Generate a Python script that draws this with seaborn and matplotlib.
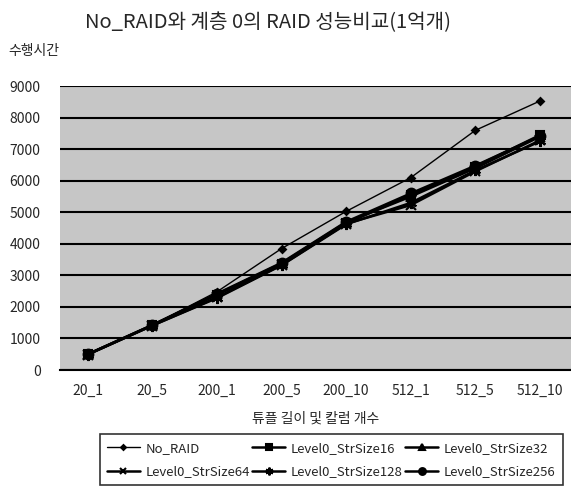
import pandas as pd
import seaborn as sns
import matplotlib.pyplot as plt
import numpy as np

categories = ['20_1', '20_5', '200_1', '200_5', '200_10', '512_1', '512_5', '512_10']
no_raid = [500, 1420, 2480, 3850, 5030, 6100, 7600, 8530]
str16 = [500, 1420, 2380, 3350, 4650, 5550, 6450, 7450]
str32 = [500, 1420, 2400, 3380, 4680, 5500, 6400, 7400]
str64 = [490, 1410, 2300, 3330, 4640, 5230, 6300, 7280]
str128 = [490, 1410, 2280, 3320, 4620, 5300, 6330, 7250]
str256 = [500, 1430, 2420, 3400, 4700, 5600, 6480, 7420]

series = {
    'No_RAID': no_raid,
    'Level0_StrSize16': str16,
    'Level0_StrSize32': str32,
    'Level0_StrSize64': str64,
    'Level0_StrSize128': str128,
    'Level0_StrSize256': str256,
}
markers = {'No_RAID': 'D', 'Level0_StrSize16': 's', 'Level0_StrSize32': '^',
           'Level0_StrSize64': 'x', 'Level0_StrSize128': (6, 2, 0), 'Level0_StrSize256': 'o'}
msizes = {'No_RAID': 3.5, 'Level0_StrSize16': 6, 'Level0_StrSize32': 6,
          'Level0_StrSize64': 7, 'Level0_StrSize128': 8, 'Level0_StrSize256': 7}

sns.set_style('white')
plt.rcParams['font.family'] = ['Noto Sans CJK KR', 'DejaVu Sans']

fig = plt.figure(figsize=(5.71, 4.98), dpi=100)
ax = fig.add_axes([0.105, 0.257, 0.895, 0.57])
ax.set_facecolor('#c6c6c6')

x = np.arange(len(categories))
for name, vals in series.items():
    df = pd.DataFrame({'x': x, 'y': vals})
    lw = 1.0 if name == 'No_RAID' else 1.8
    sns.lineplot(data=df, x='x', y='y', ax=ax, color='black', linewidth=lw,
                 marker=markers[name], markersize=msizes[name],
                 markeredgecolor='black', markerfacecolor='black',
                 markeredgewidth=1.5, label=name, legend=False)

ax.set_xlim(-0.43, 7.48)
ax.set_ylim(0, 9000)
ax.set_yticks(range(0, 9001, 1000))
ax.yaxis.grid(True, color='black', linewidth=1.5)
ax.set_axisbelow(True)
ax.set_xticks(x)
ax.set_xticklabels(categories, fontsize=10)
ax.set_xticks(np.arange(0.5, 7, 1), minor=True)
ax.tick_params(axis='x', which='major', length=0, pad=10)
ax.tick_params(axis='x', which='minor', length=4, width=1.5, color='black', direction='in')
ax.tick_params(axis='y', length=0, labelsize=10, pad=14)
for s in ['top', 'right', 'left']:
    ax.spines[s].set_visible(False)
ax.spines['bottom'].set_color('black')
ax.spines['bottom'].set_linewidth(1.5)
ax.set_xlabel('튜플 길이 및 칼럼 개수', fontsize=10, labelpad=10)
ax.set_ylabel('')

fig.text(0.47, 0.955, 'No_RAID와 계층 0의 RAID 성능비교(1억개)', ha='center', va='center', fontsize=14.5)
fig.text(0.014, 0.898, '수행시간', ha='left', va='center', fontsize=10)

handles, labels = ax.get_legend_handles_labels()
order = [0, 3, 1, 4, 2, 5]
leg = fig.legend([handles[i] for i in order], [labels[i] for i in order],
                 loc='lower left', bbox_to_anchor=(0.163, 0.012, 0.834, 0.118), mode='expand',
                 ncol=3, fontsize=9.5, frameon=True, fancybox=False, handlelength=2.5,
                 markerscale=0.7, borderpad=0.55, labelspacing=0.8, columnspacing=0.6,
                 handletextpad=0.4)
leg.get_frame().set_edgecolor('black')
leg.get_frame().set_linewidth(1.2)

fig.savefig('out.png', dpi=100)
